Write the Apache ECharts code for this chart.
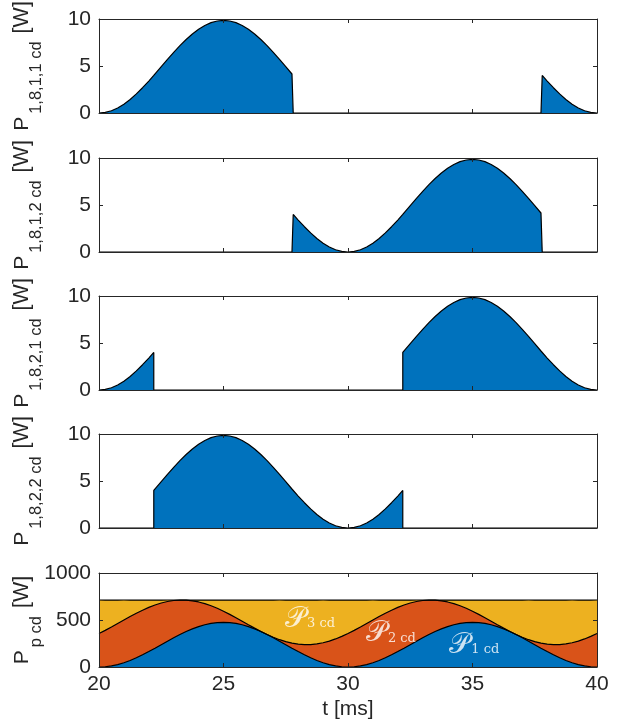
<!DOCTYPE html>
<html><head><meta charset="utf-8">
<script src="https://cdn.jsdelivr.net/npm/echarts@6/dist/echarts.min.js"></script>
<style>html,body{margin:0;padding:0;background:#fff}#c{width:622px;height:728px}</style>
</head><body><div id="c"></div>
<script>
// time axis [ms] for the four window plots (jump instants listed twice)
const time = [20,20.25,20.5,20.75,21,21.25,21.5,21.75,22,22.2,
  22.2,22.25,22.5,22.75,23,23.25,23.5,23.75,24,24.25,
  24.5,24.75,25,25.25,25.5,25.75,26,26.25,26.5,26.75,
  27,27.25,27.5,27.75,27.8,27.8,28,28.25,28.5,28.75,
  29,29.25,29.5,29.75,30,30.25,30.5,30.75,31,31.25,
  31.5,31.75,32,32.2,32.2,32.25,32.5,32.75,33,33.25,
  33.5,33.75,34,34.25,34.5,34.75,35,35.25,35.5,35.75,
  36,36.25,36.5,36.75,37,37.25,37.5,37.75,37.8,37.8,
  38,38.25,38.5,38.75,39,39.25,39.5,39.75,40];

const p1811 = [0,0.06,0.24,0.54,0.94,1.44,2.03,2.69,3.40,4.00,
  4.00,4.15,4.93,5.70,6.45,7.16,7.82,8.41,8.91,9.31,
  9.61,9.79,9.85,9.79,9.61,9.31,8.91,8.41,7.82,7.16,
  6.45,5.70,4.93,4.15,4.00,0,0,0,0,0,
  0,0,0,0,0,0,0,0,0,0,
  0,0,0,0,0,0,0,0,0,0,
  0,0,0,0,0,0,0,0,0,0,
  0,0,0,0,0,0,0,0,0,4.00,
  3.40,2.69,2.03,1.44,0.94,0.54,0.24,0.06,0];

const p1812 = [0,0,0,0,0,0,0,0,0,0,
  0,0,0,0,0,0,0,0,0,0,
  0,0,0,0,0,0,0,0,0,0,
  0,0,0,0,0,4.00,3.40,2.69,2.03,1.44,
  0.94,0.54,0.24,0.06,0,0.06,0.24,0.54,0.94,1.44,
  2.03,2.69,3.40,4.00,4.00,4.15,4.93,5.70,6.45,7.16,
  7.82,8.41,8.91,9.31,9.61,9.79,9.85,9.79,9.61,9.31,
  8.91,8.41,7.82,7.16,6.45,5.70,4.93,4.15,4.00,0,
  0,0,0,0,0,0,0,0,0];

const p1821 = [0,0.06,0.24,0.54,0.94,1.44,2.03,2.69,3.40,4.00,
  0,0,0,0,0,0,0,0,0,0,
  0,0,0,0,0,0,0,0,0,0,
  0,0,0,0,0,0,0,0,0,0,
  0,0,0,0,0,0,0,0,0,0,
  0,0,0,0,4.00,4.15,4.93,5.70,6.45,7.16,
  7.82,8.41,8.91,9.31,9.61,9.79,9.85,9.79,9.61,9.31,
  8.91,8.41,7.82,7.16,6.45,5.70,4.93,4.15,4.00,4.00,
  3.40,2.69,2.03,1.44,0.94,0.54,0.24,0.06,0];

const p1822 = [0,0,0,0,0,0,0,0,0,0,
  4.00,4.15,4.93,5.70,6.45,7.16,7.82,8.41,8.91,9.31,
  9.61,9.79,9.85,9.79,9.61,9.31,8.91,8.41,7.82,7.16,
  6.45,5.70,4.93,4.15,4.00,4.00,3.40,2.69,2.03,1.44,
  0.94,0.54,0.24,0.06,0,0.06,0.24,0.54,0.94,1.44,
  2.03,2.69,3.40,4.00,0,0,0,0,0,0,
  0,0,0,0,0,0,0,0,0,0,
  0,0,0,0,0,0,0,0,0,0,
  0,0,0,0,0,0,0,0,0];

// time axis [ms] for the bottom stacked plot
const timeP = [20,20.25,20.5,20.75,21,21.25,21.5,21.75,22,22.25,
  22.5,22.75,23,23.25,23.5,23.75,24,24.25,24.5,24.75,
  25,25.25,25.5,25.75,26,26.25,26.5,26.75,27,27.25,
  27.5,27.75,28,28.25,28.5,28.75,29,29.25,29.5,29.75,
  30,30.25,30.5,30.75,31,31.25,31.5,31.75,32,32.25,
  32.5,32.75,33,33.25,33.5,33.75,34,34.25,34.5,34.75,
  35,35.25,35.5,35.75,36,36.25,36.5,36.75,37,37.25,
  37.5,37.75,38,38.25,38.5,38.75,39,39.25,39.5,39.75,40];

const pcd1 = [0,2.9,11.6,25.9,45.4,69.6,97.9,129.7,164.1,200.4,
  237.5,274.7,310.9,345.3,377.1,405.4,429.6,449.1,463.4,472.1,
  475,472.1,463.4,449.1,429.6,405.4,377.1,345.3,310.9,274.7,
  237.5,200.4,164.1,129.7,97.9,69.6,45.4,25.9,11.6,2.9,
  0,2.9,11.6,25.9,45.4,69.6,97.9,129.7,164.1,200.4,
  237.5,274.7,310.9,345.3,377.1,405.4,429.6,449.1,463.4,472.1,
  475,472.1,463.4,449.1,429.6,405.4,377.1,345.3,310.9,274.7,
  237.5,200.4,164.1,129.7,97.9,69.6,45.4,25.9,11.6,2.9,0];

const pcd2 = [356.3,387.0,414.0,436.7,454.5,466.9,473.7,474.7,469.8,459.2,
  443.2,422.1,396.4,366.8,334.1,299.0,262.3,225.1,188.1,152.4,
  118.8,88.0,61.0,38.3,20.5,8.1,1.3,0.3,5.2,15.8,
  31.8,52.9,78.6,108.2,140.9,176.0,212.7,249.9,286.9,322.6,
  356.3,387.0,414.0,436.7,454.5,466.9,473.7,474.7,469.8,459.2,
  443.2,422.1,396.4,366.8,334.1,299.0,262.3,225.1,188.1,152.4,
  118.8,88.0,61.0,38.3,20.5,8.1,1.3,0.3,5.2,15.8,
  31.8,52.9,78.6,108.2,140.9,176.0,212.7,249.9,286.9,322.6,356.3];

const pcd3 = [356.3,322.6,286.9,249.9,212.7,176.0,140.9,108.2,78.6,52.9,
  31.8,15.8,5.2,0.3,1.3,8.1,20.5,38.3,61.0,88.0,
  118.8,152.4,188.1,225.1,262.3,299.0,334.1,366.8,396.4,422.1,
  443.2,459.2,469.8,474.7,473.7,466.9,454.5,436.7,414.0,387.0,
  356.3,322.6,286.9,249.9,212.7,176.0,140.9,108.2,78.6,52.9,
  31.8,15.8,5.2,0.3,1.3,8.1,20.5,38.3,61.0,88.0,
  118.8,152.4,188.1,225.1,262.3,299.0,334.1,366.8,396.4,422.1,
  443.2,459.2,469.8,474.7,473.7,466.9,454.5,436.7,414.0,387.0,356.3];

const panelSubs = ['1,8,1,1 cd','1,8,1,2 cd','1,8,2,1 cd','1,8,2,2 cd','p cd'];
const yMaxes = [10,10,10,10,1000];
const yIntervals = [5,5,5,5,500];
const areaLabels = ['3 cd','2 cd','1 cd'];
const areaLabelT = [27.45,30.7,34.05];
const areaLabelP = [505,355,229];

const FONT = 'Liberation Sans, Arial, Helvetica, sans-serif';
const INK = '#262626';
const BLUE = '#0072BD', ORANGE = '#D95319', YELLOW = '#EDB120';
const tops = [19, 158, 296, 434, 573];

const grids = [], xAxes = [], yAxes = [], series = [];
const windowData = [p1811, p1812, p1821, p1822];

for (let i = 0; i < 5; i++) {
  grids.push({left: 99, right: 25, top: tops[i], height: 94, containLabel: false, outerBoundsMode: 'none'});
  const last = i === 4;
  const xBase = {
    gridIndex: i, type: 'value', min: 20, max: 40, interval: 5, z: 10,
    axisLine: {show: true, onZero: false, lineStyle: {color: INK, width: 1}},
    axisTick: {show: true, inside: true, length: 4, lineStyle: {color: INK}},
    splitLine: {show: false}
  };
  xAxes.push(Object.assign({}, xBase, {
    position: 'bottom',
    axisLabel: {show: last, color: INK, fontSize: 21, fontFamily: FONT, margin: 7, formatter: v => String(v)},
    name: last ? 't [ms]' : '', nameLocation: 'middle', nameGap: 32,
    nameTextStyle: {color: INK, fontSize: 21, fontFamily: FONT}
  }));
  xAxes.push(Object.assign({}, xBase, {position: 'top', axisLabel: {show: false}}));
  const yBase = {
    gridIndex: i, type: 'value', min: 0, max: yMaxes[i], interval: yIntervals[i], z: 10,
    axisLine: {show: true, onZero: false, lineStyle: {color: INK, width: 1}},
    axisTick: {show: true, inside: true, length: 4, lineStyle: {color: INK}},
    splitLine: {show: false}
  };
  yAxes.push(Object.assign({}, yBase, {
    position: 'left',
    axisLabel: {show: true, color: INK, fontSize: 21, fontFamily: FONT, margin: 8, formatter: v => String(v)},
    name: '{a|P}{b|' + panelSubs[i] + '}{w|[W]}',
    nameLocation: 'middle', nameRotate: 90, nameGap: 54, nameMoveOverlap: false,
    nameTextStyle: {
      color: INK, fontFamily: FONT,
      rich: {
        a: {fontSize: 21, fontFamily: FONT, color: INK, verticalAlign: 'bottom', padding: [0, 3, 12, 0]},
        b: {fontSize: 16.5, fontFamily: FONT, color: INK, verticalAlign: 'bottom'},
        w: {fontSize: 21.5, fontFamily: FONT, color: INK, verticalAlign: 'bottom', padding: [0, 0, 12, 8]}
      }
    }
  }));
  yAxes.push(Object.assign({}, yBase, {position: 'right', axisLabel: {show: false}}));
}

for (let i = 0; i < 4; i++) {
  const vals = windowData[i];
  series.push({
    type: 'line', xAxisIndex: 2 * i, yAxisIndex: 2 * i,
    data: time.map((t, k) => [t, vals[k]]),
    showSymbol: false, symbol: 'none', z: 2,
    lineStyle: {color: '#000', width: 1.2},
    itemStyle: {color: BLUE},
    areaStyle: {color: BLUE, opacity: 1}
  });
}

// stacked areas (cumulative tops), drawn back to front
const top1 = pcd1;
const top2 = pcd1.map((v, k) => v + pcd2[k]);
const top3 = top2.map((v, k) => v + pcd3[k]);
const layers = [[top3, YELLOW], [top2, ORANGE], [top1, BLUE]];
layers.forEach(([vals, col], j) => {
  series.push({
    type: 'line', xAxisIndex: 8, yAxisIndex: 8,
    data: timeP.map((t, k) => [t, vals[k]]),
    showSymbol: false, symbol: 'none', z: 2 + j,
    lineStyle: {width: 0, opacity: 0},
    itemStyle: {color: col},
    areaStyle: {color: col, opacity: 1}
  });
});
layers.forEach(([vals, col]) => {
  series.push({
    type: 'line', xAxisIndex: 8, yAxisIndex: 8,
    data: timeP.map((t, k) => [t, vals[k]]),
    showSymbol: false, symbol: 'none', z: 6,
    lineStyle: {color: '#000', width: 1.2},
    itemStyle: {color: '#000'}
  });
});

series.push({
  type: 'scatter', xAxisIndex: 8, yAxisIndex: 8, z: 20,
  symbolSize: 1, itemStyle: {color: 'rgba(0,0,0,0)'},
  data: areaLabelT.map((t, k) => ({name: areaLabels[k], value: [t, areaLabelP[k]]})),
  label: {
    show: true, position: 'right', distance: 0,
    formatter: p => '{p|\u{1D4AB}}{s|' + p.name + '}',
    rich: {
      p: {fontSize: 29, fontFamily: 'DejaVu Serif, serif', color: '#fff', verticalAlign: 'bottom', padding: [0, 1, 1, 0]},
      s: {fontSize: 13, fontFamily: 'DejaVu Serif, serif', color: '#fff', verticalAlign: 'bottom', padding: [0, 0, 4, 0]}
    }
  }
});

const chart = echarts.init(document.getElementById('c'), null, {renderer: 'canvas'});
chart.setOption({
  animation: false,
  backgroundColor: '#fff',
  grid: grids, xAxis: xAxes, yAxis: yAxes, series: series
});
</script></body></html>
